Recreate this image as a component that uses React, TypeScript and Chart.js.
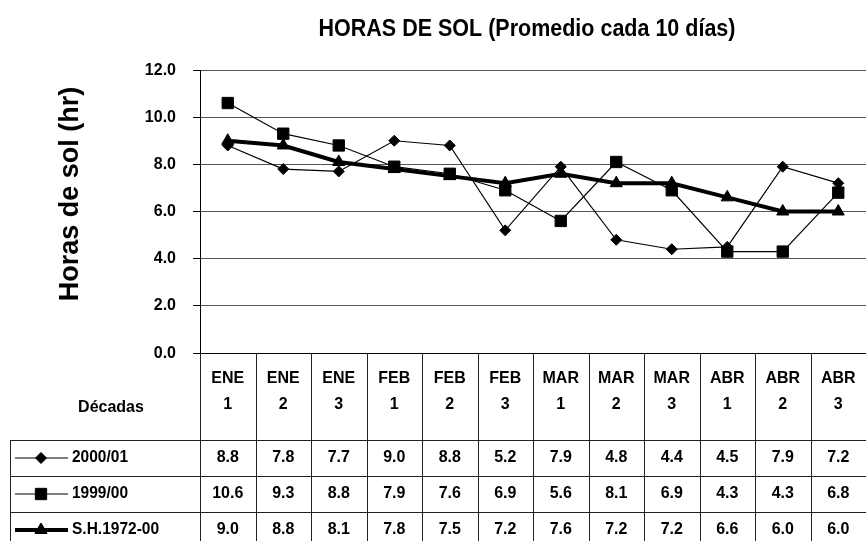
import React, { useEffect, useRef } from "react";
import { Chart, registerables } from "chart.js";

Chart.register(...registerables);

const chartTitle = "HORAS DE SOL (Promedio cada 10 días)";
const yTitle = "Horas de sol (hr)";
const tableHeader = "Décadas";
const months = ["ENE", "ENE", "ENE", "FEB", "FEB", "FEB", "MAR", "MAR", "MAR", "ABR", "ABR", "ABR"];
const decades = ["1", "2", "3", "1", "2", "3", "1", "2", "3", "1", "2", "3"];
const seriesNames = ["2000/01", "1999/00", "S.H.1972-00"];
const values2000 = [8.8, 7.8, 7.7, 9.0, 8.8, 5.2, 7.9, 4.8, 4.4, 4.5, 7.9, 7.2];
const values1999 = [10.6, 9.3, 8.8, 7.9, 7.6, 6.9, 5.6, 8.1, 6.9, 4.3, 4.3, 6.8];
const valuesSH = [9.0, 8.8, 8.1, 7.8, 7.5, 7.2, 7.6, 7.2, 7.2, 6.6, 6.0, 6.0];
const yMin = 0;
const yMax = 12;
const yStep = 2;

const FONT = '"Liberation Sans", Arial, Helvetica, sans-serif';

function drawText(
  ctx: CanvasRenderingContext2D,
  s: string,
  x: number,
  y: number,
  size: number,
  align: CanvasTextAlign = "center",
  sx = 1,
  sy = 1,
  rot = 0
) {
  ctx.save();
  ctx.translate(x, y);
  ctx.scale(sx, sy);
  if (rot) ctx.rotate(rot);
  ctx.font = `bold ${size}px ${FONT}`;
  ctx.textAlign = align;
  ctx.textBaseline = "middle";
  ctx.fillStyle = "#000";
  ctx.fillText(s, 0, 0);
  ctx.restore();
}

function drawMarker(ctx: CanvasRenderingContext2D, style: string, r: number, x: number, y: number) {
  ctx.save();
  ctx.fillStyle = "#000";
  ctx.strokeStyle = "#000";
  ctx.lineWidth = 1;
  ctx.beginPath();
  if (style === "rect") {
    const s = Math.SQRT1_2 * r;
    ctx.rect(x - s, y - s, 2 * s, 2 * s);
  } else if (style === "rectRot") {
    ctx.moveTo(x - r, y);
    ctx.lineTo(x, y - r);
    ctx.lineTo(x + r, y);
    ctx.lineTo(x, y + r);
    ctx.closePath();
  } else {
    const a = (2 * Math.PI) / 3;
    ctx.moveTo(x, y - r);
    ctx.lineTo(x + Math.sin(a) * r, y - Math.cos(a) * r);
    ctx.lineTo(x - Math.sin(a) * r, y - Math.cos(a) * r);
    ctx.closePath();
  }
  ctx.fill();
  ctx.stroke();
  ctx.restore();
}

const tablePlugin = {
  id: "excelTable",
  afterDraw(chart: any) {
    const ctx: CanvasRenderingContext2D = chart.ctx;
    const area = chart.chartArea;
    const xs = chart.scales.x;
    const ys = chart.scales.y;
    const H = chart.height;
    const n = months.length;
    const w = xs.getPixelForValue(1) - xs.getPixelForValue(0);
    const rowTop = 440;
    const rowH = 36;
    const tableLeft = 10;

    drawText(ctx, chartTitle, 527, 29, 21.5, "center", 1, 1.1);
    drawText(ctx, yTitle, 71, 194, 27, "center", 1, 1.0, -Math.PI / 2);

    ys.ticks.forEach((t: any) => {
      const py = ys.getPixelForValue(t.value);
      drawText(ctx, t.value.toFixed(1), 176, py, 16, "right", 1, 1.05);
    });

    ctx.save();
    ctx.strokeStyle = "#222";
    ctx.lineWidth = 1;
    ctx.beginPath();
    for (let i = 0; i <= n; i++) {
      const bx = Math.round(xs.getPixelForValue(0) - w / 2 + i * w) + 0.5;
      ctx.moveTo(bx, area.bottom);
      ctx.lineTo(bx, H);
    }
    for (let r = 0; r < 3; r++) {
      const yy = rowTop + r * rowH + 0.5;
      ctx.moveTo(tableLeft, yy);
      ctx.lineTo(area.right, yy);
    }
    ctx.moveTo(tableLeft + 0.5, rowTop);
    ctx.lineTo(tableLeft + 0.5, H);
    ctx.stroke();
    ctx.restore();

    drawText(ctx, tableHeader, 111, 407, 16, "center", 1, 1.05);
    for (let i = 0; i < n; i++) {
      const cx = xs.getPixelForValue(i);
      drawText(ctx, months[i], cx, 378, 16, "center", 1, 1.08);
      drawText(ctx, decades[i], cx, 404, 16, "center", 1, 1.08);
    }

    const datasets = chart.data.datasets;
    datasets.forEach((ds: any, r: number) => {
      const cy = rowTop + r * rowH + rowH / 2;
      ctx.save();
      ctx.strokeStyle = "#000";
      ctx.lineWidth = ds.borderWidth;
      ctx.beginPath();
      ctx.moveTo(15, cy);
      ctx.lineTo(68, cy);
      ctx.stroke();
      ctx.restore();
      drawMarker(ctx, ds.pointStyle, ds.pointRadius, 41, cy);
      drawText(ctx, seriesNames[r], 72, cy, 15.5, "left", 1, 1.05);
      ds.data.forEach((v: number, i: number) => {
        drawText(ctx, v.toFixed(1), xs.getPixelForValue(i), cy, 16, "center", 1, 1.02);
      });
    });
  },
};

export default function App() {
  const ref = useRef<HTMLCanvasElement>(null);
  useEffect(() => {
    if (!ref.current) return;
    const labels = months.map((m, i) => `${m} ${decades[i]}`);
    const chart = new Chart(ref.current, {
      type: "line",
      data: {
        labels,
        datasets: [
          {
            label: seriesNames[0],
            data: values2000,
            borderColor: "#000",
            backgroundColor: "#000",
            borderWidth: 1.2,
            pointStyle: "rectRot",
            pointRadius: 5.5,
            pointBorderWidth: 1,
            pointBorderColor: "#000",
            pointBackgroundColor: "#000",
            tension: 0,
          },
          {
            label: seriesNames[1],
            data: values1999,
            borderColor: "#000",
            backgroundColor: "#000",
            borderWidth: 1.2,
            pointStyle: "rect",
            pointRadius: 8,
            pointBorderWidth: 1,
            pointBorderColor: "#000",
            pointBackgroundColor: "#000",
            tension: 0,
          },
          {
            label: seriesNames[2],
            data: valuesSH,
            borderColor: "#000",
            backgroundColor: "#000",
            borderWidth: 4,
            pointStyle: "triangle",
            pointRadius: 7,
            pointBorderWidth: 1,
            pointBorderColor: "#000",
            pointBackgroundColor: "#000",
            tension: 0,
          },
        ],
      },
      options: {
        responsive: false,
        animation: false,
        layout: { autoPadding: false, padding: { top: 70, left: 0, right: 0, bottom: 188 } },
        plugins: {
          legend: { display: false },
          title: { display: false },
          tooltip: { enabled: false },
        },
        scales: {
          x: {
            type: "category",
            offset: true,
            display: false,
          },
          y: {
            min: yMin,
            max: yMax,
            ticks: { stepSize: yStep, display: false },
            grid: {
              color: (c: any) => (c.tick && c.tick.value === 0 ? "#000" : "#555"),
              lineWidth: 1,
              drawTicks: true,
              tickLength: 7,
              tickColor: "#000",
            },
            border: { display: true, color: "#000", width: 1 },
            afterFit: (scale: any) => {
              scale.width = 200;
            },
          },
        },
      },
      plugins: [tablePlugin],
    });
    return () => chart.destroy();
  }, []);
  return (
    <div style={{ position: "fixed", left: 0, top: 0, width: 866, height: 541, background: "#fff" }}>
      <canvas ref={ref} width={866} height={541} />
    </div>
  );
}
